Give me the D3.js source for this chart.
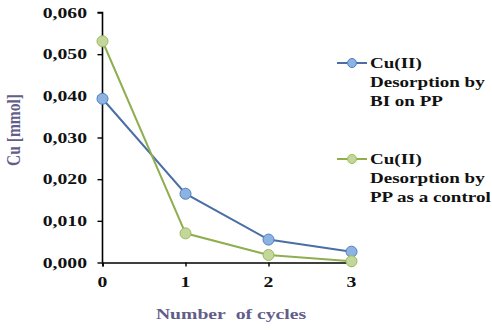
<!DOCTYPE html>
<html><head><meta charset="utf-8">
<script src="https://cdn.jsdelivr.net/npm/d3@7"></script>
<style>body{margin:0;background:#fff;}</style>
</head><body>
<svg id="c" width="492" height="330"></svg>
<script>
const cycles = [0, 1, 2, 3];
const biOnPP = [0.0393, 0.0165, 0.0055, 0.0026];
const ppControl = [0.0531, 0.0070, 0.0018, 0.0003];
const yTicks = [0, 0.01, 0.02, 0.03, 0.04, 0.05, 0.06];
const seriesNames = [["Cu(II)", "Desorption by", "BI on PP"], ["Cu(II)", "Desorption by", "PP as a control"]];

const FONT = "'Liberation Serif', 'Times New Roman', Tinos, 'DejaVu Serif', serif";
const svg = d3.select("#c");
const x = d3.scaleLinear().domain([0, 3]).range([102.5, 351.5]);
const y = d3.scaleLinear().domain([0, 0.06]).range([262.5, 12.5]);
const SX = 1.27;
const fmt = d => d3.format(".3f")(d).replace(".", ",");

function txt(tr, s, anchor, fill, size) {
  return svg.append("text").attr("transform", tr).attr("text-anchor", anchor || "start")
    .attr("font-family", FONT).attr("font-weight", "bold").attr("font-size", size || 15)
    .attr("fill", fill || "#111").text(s);
}

const yAxis = svg.append("g").attr("transform", "translate(102.5,0)")
  .call(d3.axisLeft(y).tickValues(yTicks).tickSize(5).tickFormat(""));
const xAxis = svg.append("g").attr("transform", "translate(0,262.5)")
  .call(d3.axisBottom(x).tickValues(cycles).tickSize(4).tickFormat(""));
[yAxis, xAxis].forEach(a => { a.select(".domain").attr("stroke", "#000").attr("stroke-width", 1.6); a.selectAll(".tick line").attr("stroke", "#000").attr("stroke-width", 1.4); });
yAxis.select(".domain").attr("d", "M-5,12.5H0V262.5");

yTicks.forEach(t => txt(`translate(87,${y(t) + 5}) scale(${SX},1)`, fmt(t), "end", "#111", 15.5));
cycles.forEach(c => txt(`translate(${x(c)},287) scale(${SX},1)`, c, "middle", "#111", 15.5));

txt(`translate(231,319) scale(${SX},1)`, "Number\u00a0 of cycles", "middle", "#635d8a", 15.5);
txt(`translate(20,130) rotate(-90) scale(1,${SX})`, "Cu [mmol]", "middle", "#635d8a", 15.5);

const series = [
  { vals: biOnPP, line: "#4a6fa5", fill: "#8db3e2", stroke: "#4f7fbf", ly: 63 },
  { vals: ppControl, line: "#8fae4f", fill: "#c3d69b", stroke: "#9bbb59", ly: 159 }
];
const line = d3.line().x((d, i) => x(cycles[i])).y(d => y(d));
series.forEach((s, k) => {
  svg.append("path").attr("d", line(s.vals)).attr("fill", "none").attr("stroke", s.line).attr("stroke-width", 2);
  svg.selectAll(null).data(s.vals).enter().append("circle")
    .attr("cx", (d, i) => x(cycles[i])).attr("cy", d => y(d)).attr("r", 5.5)
    .attr("fill", s.fill).attr("stroke", s.stroke).attr("stroke-width", 1);
  svg.append("line").attr("x1", 337).attr("x2", 367).attr("y1", s.ly).attr("y2", s.ly).attr("stroke", s.line).attr("stroke-width", 2);
  svg.append("circle").attr("cx", 352).attr("cy", s.ly).attr("r", 4.5).attr("fill", s.fill).attr("stroke", s.stroke);
  seriesNames[k].forEach((t, j) => txt(`translate(370,${s.ly + 5 + j * 19}) scale(${SX},1)`, t));
});
</script>
</body></html>
